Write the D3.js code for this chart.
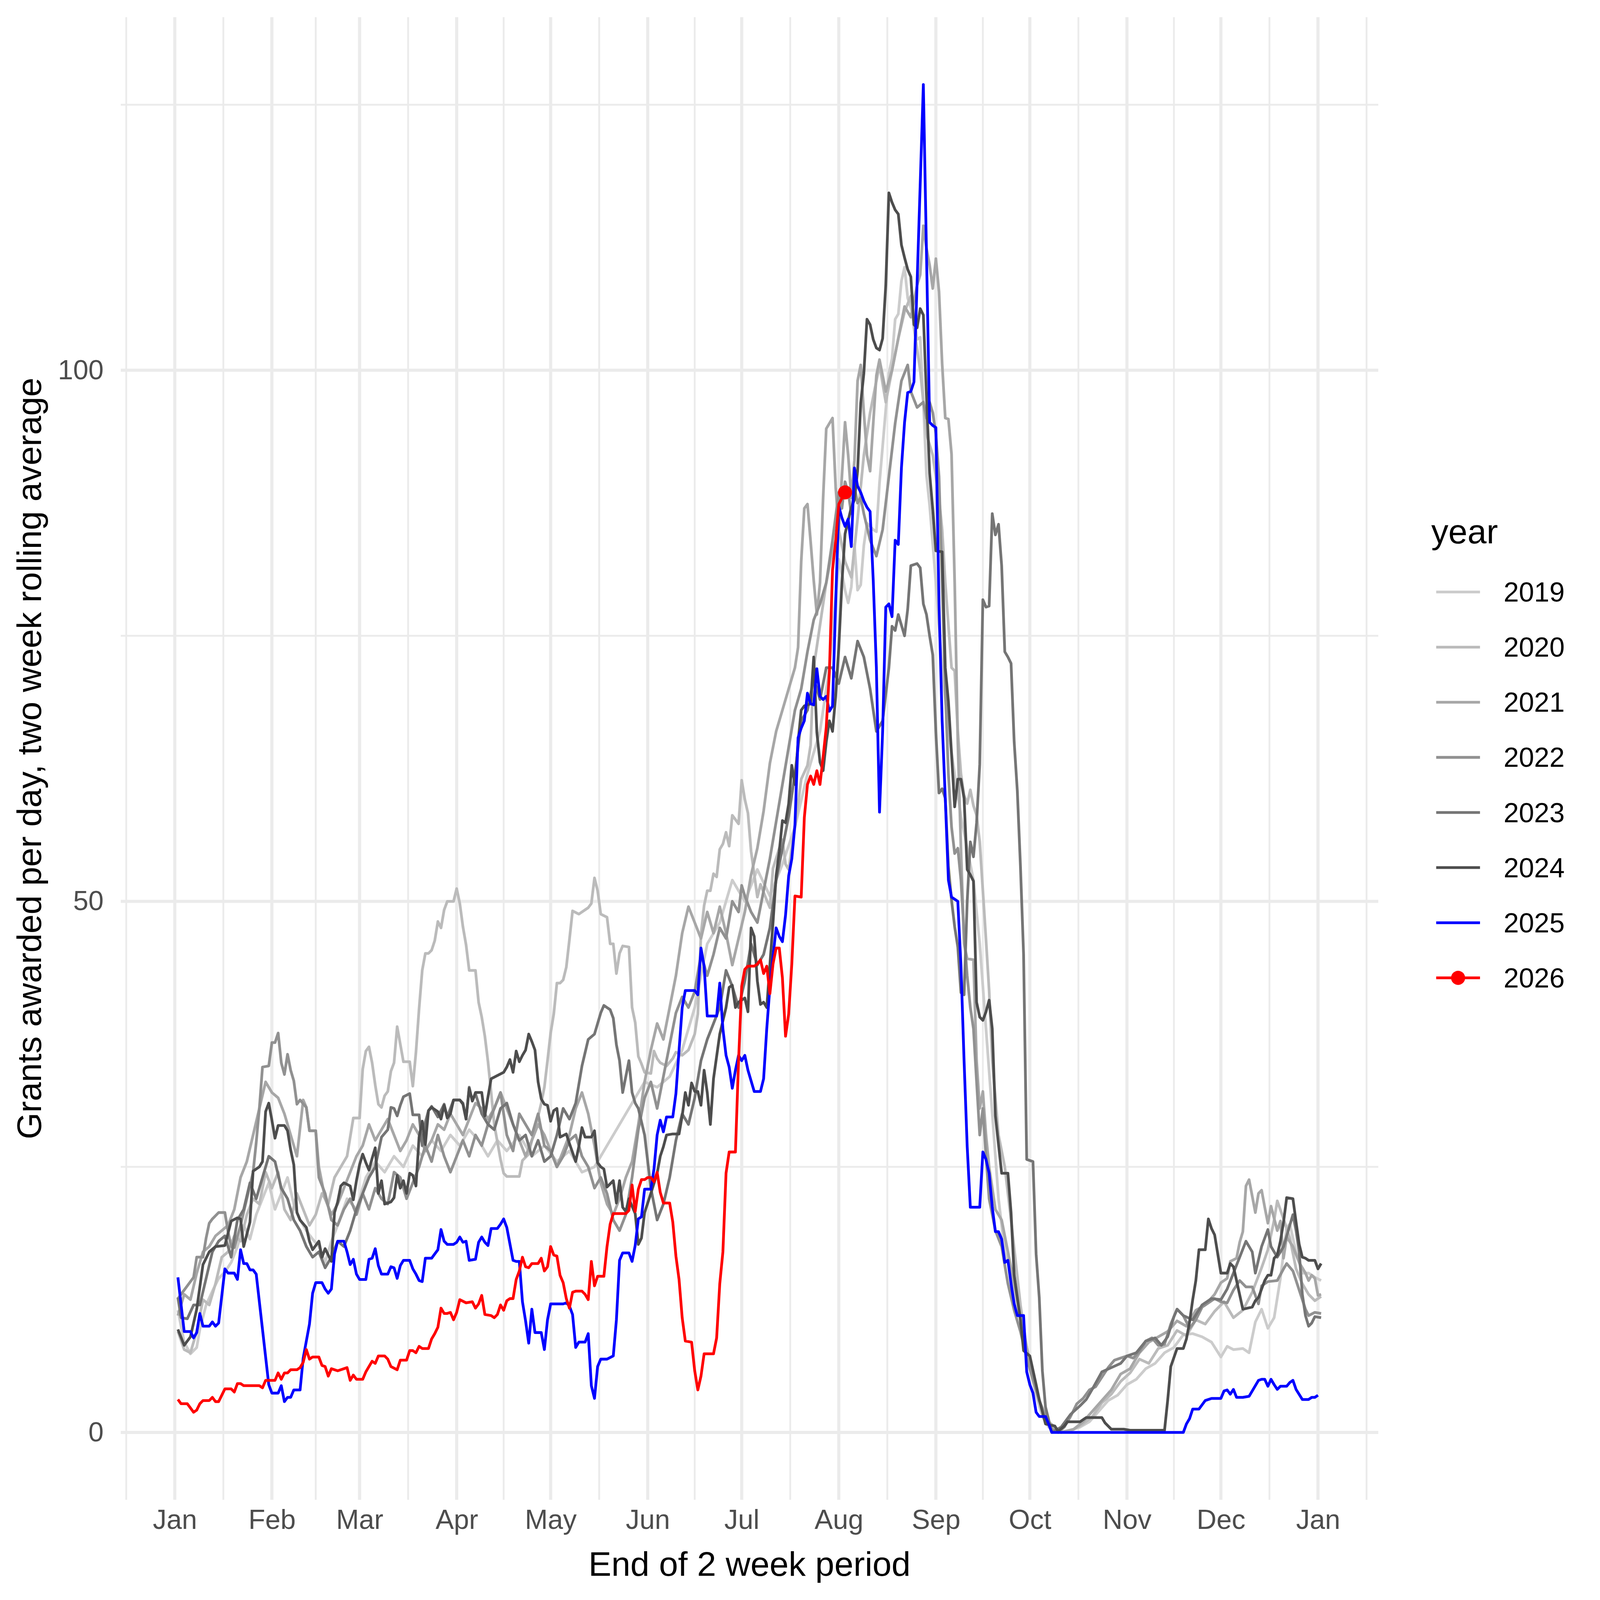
<!DOCTYPE html>
<html>
<head>
<meta charset="utf-8">
<script src="https://cdn.jsdelivr.net/npm/d3@7"></script>
<style>
  html, body { margin: 0; padding: 0; background: #fff; overflow: hidden; }
  #chart svg { display: block; width: 100vw; height: 100vh; }
  text { font-family: "Liberation Sans", Arial, Helvetica, sans-serif; }
</style>
</head>
<body>
<div id="chart"></div>
<script>
// series: [day of year (0 = 1 Jan), grants per day]
var years = ["2019", "2020", "2021", "2022", "2023", "2024", "2025", "2026"];

var s2019 = [[1,11.5],[3,8.5],[5,7.4],[7,8.0],[8,9.7],[10,12.0],[12,13.3],[14,14.5],[16,15.1],[18,16.0],[20,17.5],[22,19.5],[24,18.2],[26,20.5],[28,22.0],[30,23.5],[32,21.0],[34,22.5],[36,24.0],[38,21.5],[40,20.0],[42,19.0],[44,18.2],[46,17.5],[48,16.0],[50,18.0],[52,19.5],[55,22.0],[58,21.0],[61,24.0],[64,25.5],[67,24.5],[70,26.0],[73,25.0],[76,27.0],[79,26.0],[82,27.5],[85,26.5],[88,28.0],[91,27.0],[94,28.5],[97,27.5],[100,26.0],[103,27.5],[106,26.5],[110,28.0],[114,26.0],[118,27.0],[122,25.5],[126,26.5],[130,24.5],[134,25.0],[138,27.0],[142,29.0],[146,31.0],[150,33.0],[154,32.5],[158,33.5],[162,36.0],[166,40.0],[170,46.0],[174,48.0],[178,52.0],[182,50.0],[186,53.0],[190,50.5],[194,53.5],[198,57.0],[202,62.0],[206,66.0],[209,72.0],[212,82.2],[213,80.9],[214,79.3],[215,78.1],[216,79.6],[217,83.6],[218,79.3],[219,79.8],[220,83.5],[221,85.6],[223,85.0],[224,84.8],[225,89.4],[227,96.3],[228,99.7],[229,101.1],[230,104.8],[231,105.3],[232,108.4],[233,109.7],[234,106.8],[236,105.0],[237,102.9],[238,103.1],[239,97.0],[240,90.1],[241,87.3],[243,80.0],[245,72.0],[247,66.0],[249,62.0],[251,58.0],[253,55.0],[255,52.0],[257,46.0],[259,38.0],[261,30.0],[263,22.0],[265,17.0],[267,15.0],[269,12.0],[271,9.0],[273,6.0],[275,3.5],[277,1.5],[279,0.5],[282,0.0],[286,0.2],[289,0.5],[292,1.0],[295,2.0],[298,3.0],[301,3.5],[304,4.5],[307,5.0],[310,6.0],[313,6.5],[316,7.5],[319,8.0],[322,9.2],[325,9.3],[328,9.0],[331,8.5],[334,7.1],[336,8.1],[338,7.8],[341,7.9],[343,7.5],[345,10.4],[347,11.6],[349,9.8],[351,10.8],[353,14.5],[355,19.3],[356,19.6],[358,17.0],[360,15.0],[362,15.0],[364,14.6],[366,14.3]];

var s2020 = [[1,9.5],[3,7.8],[5,7.5],[7,9.5],[9,12.5],[11,12.0],[13,14.0],[15,16.5],[17,17.0],[19,18.5],[21,18.0],[23,20.5],[25,22.0],[27,21.5],[29,24.5],[31,23.0],[33,24.5],[35,21.0],[37,20.0],[39,22.5],[41,21.0],[43,19.5],[45,20.5],[47,22.5],[49,21.5],[51,24.0],[53,25.0],[55,26.0],[57,29.6],[59,29.6],[60,34.2],[61,35.9],[62,36.3],[63,34.8],[64,32.7],[65,30.9],[66,30.6],[67,31.7],[68,32.1],[69,34.0],[70,34.8],[71,38.2],[73,34.9],[75,34.9],[76,32.6],[77,35.8],[78,39.9],[79,43.5],[80,45.1],[81,45.1],[82,45.4],[83,46.3],[84,48.1],[85,47.5],[86,49.2],[87,50.0],[89,50.0],[90,51.2],[91,49.8],[92,47.6],[93,45.9],[94,43.5],[96,43.5],[97,40.5],[98,39.1],[99,37.3],[100,34.9],[101,32.0],[102,29.0],[104,25.7],[105,24.4],[106,24.1],[110,24.1],[111,25.6],[113,26.2],[114,27.5],[115,28.5],[117,31.0],[118,32.5],[119,35.0],[120,37.6],[121,39.4],[122,42.3],[123,42.3],[124,42.6],[125,43.8],[126,46.4],[127,49.1],[129,48.8],[130,49.0],[132,49.4],[133,49.8],[134,52.2],[135,51.0],[136,48.8],[138,48.5],[139,46.0],[140,46.0],[141,43.2],[142,45.1],[143,45.8],[145,45.7],[146,40.0],[147,38.6],[148,35.4],[149,34.7],[150,33.9],[152,33.8],[153,35.9],[154,35.2],[155,34.8],[157,34.5],[159,35.2],[160,35.8],[162,35.5],[164,36.0],[166,37.5],[167,39.4],[168,46.9],[169,49.6],[170,51.0],[171,51.0],[172,52.6],[173,52.3],[174,54.9],[175,55.4],[176,56.5],[177,55.2],[178,58.1],[180,57.3],[181,61.4],[182,59.6],[183,58.3],[184,54.7],[186,50.4],[187,51.6],[189,50.1],[190,49.4],[191,53.1],[193,55.0],[194,55.8],[195,53.5],[196,53.0],[198,57.0],[199,59.2],[200,61.5],[202,62.8],[203,64.7],[204,72.0],[206,76.0],[208,80.0],[210,83.0],[212,85.0],[214,82.0],[216,80.5],[218,86.0],[220,92.0],[222,96.0],[224,99.0],[225,100.5],[227,97.0],[229,100.0],[231,103.0],[233,105.5],[235,107.0],[236,104.0],[238,100.0],[240,94.0],[242,92.0],[244,88.0],[245,85.0],[246,80.0],[247,76.0],[248,72.0],[249,71.7],[250,66.0],[251,62.0],[252,60.0],[253,59.2],[254,60.5],[255,59.0],[256,58.1],[257,55.6],[258,51.0],[259,46.4],[260,41.6],[261,35.0],[263,28.0],[265,25.0],[267,20.0],[270,12.0],[273,6.0],[276,3.0],[279,1.0],[283,0.0],[287,0.3],[290,0.8],[293,1.5],[296,2.8],[299,3.6],[302,4.8],[305,5.6],[308,6.9],[311,6.5],[314,7.9],[317,8.2],[320,9.6],[323,9.1],[326,10.6],[329,10.2],[332,11.4],[335,12.3],[338,10.8],[341,11.5],[344,13.2],[347,15.5],[349,17.2],[351,20.0],[352,21.8],[354,20.1],[356,18.3],[358,15.4],[360,14.0],[362,13.0],[364,12.4],[366,12.8]];

var s2021 = [[1,11.0],[3,13.0],[5,12.5],[7,15.0],[9,17.0],[11,17.5],[13,18.5],[15,19.0],[17,19.5],[19,21.0],[21,24.0],[23,25.5],[25,28.0],[27,30.5],[29,33.0],[31,32.0],[33,31.5],[35,30.0],[37,28.0],[39,26.0],[41,31.3],[42,30.6],[43,28.4],[45,28.4],[46,25.0],[48,22.0],[50,20.5],[52,21.5],[54,23.0],[56,24.5],[58,26.0],[60,27.0],[62,29.0],[64,27.5],[66,28.5],[68,29.5],[70,28.0],[72,26.5],[74,27.5],[76,29.0],[78,28.0],[80,26.5],[82,27.5],[84,29.0],[86,28.5],[88,30.0],[90,29.0],[92,28.0],[94,29.5],[96,31.0],[98,30.5],[100,29.5],[102,30.5],[104,32.0],[106,30.5],[108,29.0],[110,27.5],[112,26.0],[114,27.5],[116,29.0],[118,28.0],[120,26.5],[122,25.0],[124,26.5],[126,28.0],[128,30.5],[130,32.0],[132,30.0],[134,27.0],[136,23.5],[138,21.5],[140,20.5],[142,22.0],[144,24.0],[146,25.5],[148,29.0],[150,33.0],[152,36.0],[154,38.5],[156,37.0],[158,40.0],[160,43.0],[162,47.0],[164,49.5],[166,48.0],[168,46.5],[170,49.0],[172,47.0],[174,49.5],[176,47.0],[178,44.0],[180,46.5],[182,49.0],[184,52.5],[186,55.0],[188,58.5],[190,63.0],[192,66.0],[194,68.0],[196,70.0],[198,72.0],[199,73.9],[200,82.0],[201,87.0],[202,87.4],[203,83.9],[204,80.2],[205,77.0],[206,80.0],[207,88.0],[208,94.5],[210,95.5],[211,89.0],[212,85.0],[213,90.0],[214,95.1],[215,92.0],[216,88.0],[217,91.5],[218,99.0],[219,100.5],[220,96.0],[221,92.0],[222,90.5],[223,95.0],[224,99.5],[225,101.0],[227,98.0],[229,100.0],[231,103.0],[233,106.0],[235,105.0],[237,108.0],[238,109.0],[239,113.6],[240,111.5],[241,109.9],[242,107.7],[243,110.5],[244,107.4],[245,100.6],[246,95.5],[247,95.4],[248,92.1],[249,80.0],[250,65.0],[251,55.0],[252,46.0],[253,44.6],[255,44.5],[256,35.0],[257,30.5],[258,32.1],[259,28.0],[260,25.0],[262,21.0],[264,20.0],[266,17.0],[268,14.0],[270,11.0],[272,8.0],[274,5.5],[276,3.0],[278,1.5],[280,0.5],[283,0.0],[287,0.3],[290,1.0],[293,2.0],[296,3.0],[299,4.0],[302,5.5],[305,6.0],[308,7.5],[311,8.5],[314,9.0],[317,9.5],[320,10.5],[323,10.0],[326,11.5],[329,12.0],[332,13.0],[334,14.1],[336,14.5],[337,16.1],[339,16.4],[340,17.9],[341,18.9],[342,23.2],[343,23.8],[345,20.7],[346,22.5],[347,22.8],[348,21.2],[349,19.7],[350,21.3],[352,19.0],[353,19.9],[354,16.4],[355,18.4],[357,17.5],[359,16.0],[361,15.0],[362,14.3],[363,14.8],[364,14.5],[365,12.9],[366,13.0]];

var s2022 = [[1,12.6],[3,13.4],[4,13.8],[6,14.6],[7,16.5],[9,16.5],[10,18.3],[11,19.7],[12,20.1],[14,20.7],[16,20.7],[17,18.9],[18,17.5],[19,17.4],[21,19.5],[23,22.0],[25,24.5],[26,27.3],[27,30.5],[28,34.4],[30,34.5],[31,36.7],[32,36.7],[33,37.6],[34,34.8],[35,33.7],[36,35.6],[37,34.1],[38,33.1],[39,30.9],[40,31.3],[42,30.6],[43,28.4],[45,28.4],[46,24.0],[48,22.5],[50,20.0],[52,19.5],[54,21.0],[56,22.0],[58,20.5],[60,22.5],[62,21.0],[64,23.0],[66,22.0],[68,21.5],[70,24.5],[72,24.0],[74,22.0],[76,23.5],[78,25.0],[80,27.0],[82,25.5],[84,28.0],[86,26.0],[88,24.5],[90,26.0],[92,27.5],[94,26.0],[96,28.0],[98,27.0],[100,29.0],[102,30.5],[104,32.0],[106,28.0],[108,26.5],[110,30.0],[112,29.0],[114,28.0],[116,30.0],[118,27.0],[120,26.5],[122,25.0],[124,26.0],[126,27.5],[128,28.0],[130,26.0],[132,25.0],[134,23.0],[136,24.0],[138,22.5],[140,20.0],[142,19.0],[144,20.5],[146,24.0],[148,28.5],[150,31.5],[152,33.0],[154,30.5],[156,33.5],[158,36.5],[160,39.5],[162,41.0],[164,40.0],[166,41.5],[168,45.0],[170,43.0],[172,45.0],[174,47.5],[176,46.5],[178,50.0],[180,49.0],[181,51.5],[182,50.5],[184,49.0],[186,48.0],[188,51.0],[190,54.0],[192,57.5],[194,61.0],[196,64.5],[198,68.0],[200,70.0],[202,73.5],[204,76.5],[206,78.0],[208,80.0],[210,84.0],[212,88.5],[213,87.0],[214,89.5],[215,88.5],[216,86.5],[217,89.0],[218,87.5],[219,88.0],[220,86.5],[222,84.0],[224,82.5],[226,85.0],[228,90.0],[230,95.0],[232,99.0],[234,100.5],[235,98.0],[237,96.5],[239,97.0],[240,95.5],[241,97.0],[242,96.0],[243,94.0],[244,90.0],[245,80.0],[246,70.0],[247,62.0],[248,57.0],[249,54.5],[250,55.0],[251,52.0],[252,47.0],[253,43.0],[254,40.0],[255,38.0],[256,33.0],[257,28.0],[258,30.5],[259,26.0],[260,22.0],[262,19.0],[264,17.5],[266,14.0],[268,11.5],[270,9.5],[272,7.0],[274,5.0],[276,3.0],[278,1.5],[280,0.3],[282,0.0],[284,0.5],[286,1.5],[288,2.7],[290,3.2],[292,4.0],[294,4.3],[296,5.2],[298,6.1],[300,6.8],[302,7.0],[304,7.2],[306,7.0],[308,7.6],[310,8.6],[312,8.9],[314,8.2],[316,8.3],[318,10.2],[320,11.6],[322,11.0],[324,9.8],[326,10.6],[328,11.8],[330,12.2],[332,12.6],[334,12.3],[336,12.2],[338,13.4],[340,14.3],[342,13.7],[344,13.7],[346,12.1],[347,13.8],[349,14.2],[352,14.3],[354,15.4],[355,15.9],[357,15.2],[359,13.4],[361,11.6],[362,11.0],[364,11.3],[366,11.2]];

var s2023 = [[1,12.7],[2,10.8],[4,10.7],[6,12.0],[8,12.0],[10,14.5],[12,17.0],[14,18.0],[16,18.5],[18,16.5],[20,20.0],[22,21.0],[24,23.5],[26,22.0],[28,24.0],[30,26.0],[32,25.5],[34,23.0],[36,22.0],[38,20.0],[40,19.0],[42,17.5],[44,16.5],[46,17.0],[48,15.5],[50,16.5],[52,18.0],[54,17.5],[56,19.0],[58,21.0],[60,22.5],[62,24.0],[64,25.0],[66,27.8],[68,28.5],[69,30.6],[70,30.5],[71,29.8],[72,30.8],[73,31.6],[75,31.9],[76,29.9],[78,29.9],[79,27.0],[80,29.2],[81,30.3],[82,30.7],[84,29.7],[86,30.9],[87,29.7],[89,31.3],[91,31.3],[92,31.0],[93,29.5],[94,32.5],[95,31.2],[96,31.9],[98,30.0],[100,29.0],[102,28.5],[104,30.5],[106,31.0],[108,29.0],[110,27.5],[112,28.0],[114,26.0],[116,27.5],[118,25.5],[120,26.0],[122,28.0],[124,30.5],[126,29.5],[128,31.0],[130,34.5],[132,37.0],[134,37.5],[136,39.5],[137,40.2],[138,40.0],[139,39.8],[140,39.0],[141,36.5],[142,35.0],[143,32.0],[144,33.5],[145,35.0],[146,32.0],[147,31.0],[148,30.5],[150,28.0],[152,23.0],[154,20.0],[156,21.5],[158,24.0],[160,27.5],[162,30.0],[164,29.0],[166,31.5],[168,35.0],[170,37.0],[172,38.5],[174,40.0],[176,43.5],[178,42.0],[180,40.0],[182,42.5],[184,46.0],[186,44.0],[188,45.0],[190,47.5],[192,52.0],[194,55.0],[196,58.0],[198,62.0],[200,67.0],[202,68.0],[204,71.0],[206,69.0],[208,72.0],[210,72.0],[212,70.5],[214,73.0],[216,71.0],[218,74.5],[220,73.0],[222,70.0],[224,66.0],[226,67.0],[228,72.0],[229,75.9],[230,75.5],[231,77.0],[232,76.0],[233,75.0],[234,77.5],[235,81.6],[237,81.8],[238,81.4],[239,78.0],[240,77.0],[241,75.0],[242,73.2],[243,65.9],[244,60.2],[245,60.6],[246,59.7],[247,53.3],[248,50.1],[249,47.6],[250,45.7],[251,41.4],[252,41.2],[253,50.0],[254,55.6],[255,54.2],[256,57.4],[257,62.9],[258,78.4],[259,77.7],[260,77.8],[261,86.5],[262,84.5],[263,85.5],[264,81.6],[265,73.5],[266,73.0],[267,72.4],[268,65.0],[269,60.4],[270,53.3],[271,45.0],[272,25.7],[274,25.5],[275,16.8],[276,12.7],[277,5.8],[278,2.4],[280,0.0],[283,0.5],[286,1.7],[289,2.5],[291,3.1],[293,4.1],[296,5.7],[299,6.1],[302,6.5],[304,7.2],[307,7.5],[310,8.6],[313,8.9],[315,8.2],[317,9.0],[319,10.9],[320,11.6],[322,11.0],[325,10.6],[328,12.0],[331,12.6],[334,12.5],[336,13.5],[338,15.0],[340,16.5],[342,18.0],[344,17.0],[345,15.0],[347,17.5],[349,19.1],[350,17.5],[352,16.5],[354,17.5],[356,19.5],[357,20.5],[358,19.0],[359,17.0],[360,13.0],[361,11.0],[362,10.0],[363,10.3],[364,10.9],[366,10.8]];

var s2024 = [[1,9.7],[3,8.2],[5,9.0],[7,11.6],[9,15.8],[11,17.0],[13,17.5],[16,17.6],[18,19.9],[20,20.2],[21,20.1],[22,17.5],[24,19.8],[25,24.6],[27,25.0],[28,25.5],[29,30.2],[30,31.0],[31,29.4],[32,27.7],[33,28.9],[35,28.9],[36,28.4],[37,26.6],[38,25.2],[39,20.7],[40,20.0],[42,19.3],[43,18.0],[44,17.2],[46,18.0],[47,16.5],[48,17.3],[50,16.1],[51,20.7],[52,21.7],[53,23.2],[54,23.5],[56,23.2],[57,21.9],[58,23.7],[59,25.2],[60,26.2],[61,25.4],[62,24.7],[63,25.8],[64,26.8],[65,22.5],[66,23.7],[67,21.5],[69,21.7],[70,22.1],[71,24.2],[72,23.0],[73,23.7],[74,22.5],[75,24.4],[76,24.2],[77,23.2],[78,27.8],[79,29.3],[80,27.1],[81,30.3],[82,30.6],[84,30.2],[85,29.5],[86,30.8],[87,29.6],[88,30.0],[89,31.3],[91,31.3],[92,30.9],[93,29.5],[94,32.4],[95,31.2],[96,32.0],[98,32.0],[99,29.8],[100,31.6],[101,33.3],[103,33.6],[105,33.9],[106,34.4],[107,35.1],[108,33.9],[109,35.9],[110,34.9],[111,35.5],[112,36.0],[113,37.5],[114,36.8],[115,36.0],[116,33.0],[117,31.4],[118,30.9],[119,30.8],[120,29.3],[121,30.3],[122,30.5],[123,27.8],[125,28.1],[126,27.2],[128,25.5],[129,26.9],[130,28.7],[131,27.8],[133,27.8],[134,28.4],[135,25.4],[136,25.0],[137,24.8],[138,23.1],[140,23.7],[141,21.6],[142,23.7],[143,21.2],[144,20.8],[145,22.0],[147,20.6],[148,17.7],[149,18.3],[150,20.7],[151,21.6],[152,22.5],[154,24.4],[155,26.0],[156,26.9],[157,28.0],[159,28.1],[161,28.1],[162,29.8],[163,32.0],[164,30.8],[165,32.9],[166,32.1],[167,32.1],[168,30.8],[169,34.1],[170,32.0],[171,29.0],[172,33.3],[174,37.5],[176,40.0],[177,41.9],[178,42.1],[179,40.0],[180,40.5],[182,40.9],[183,39.6],[184,47.5],[185,46.7],[186,42.5],[187,40.3],[188,40.5],[189,40.0],[190,44.0],[191,48.0],[192,52.4],[193,54.7],[194,57.6],[195,57.4],[196,59.2],[197,62.8],[198,61.0],[199,65.0],[200,68.0],[201,68.4],[203,68.6],[204,73.0],[205,65.9],[206,63.1],[207,62.3],[208,65.0],[209,67.0],[210,66.0],[211,69.3],[212,73.9],[213,80.0],[214,84.6],[216,87.1],[217,87.8],[218,90.5],[219,96.9],[220,99.7],[221,104.8],[222,104.3],[223,102.9],[224,102.1],[225,101.9],[226,103.0],[227,108.0],[228,116.7],[229,115.8],[230,115.1],[231,114.7],[232,111.8],[233,110.6],[234,109.5],[235,108.8],[236,104.3],[237,104.0],[238,105.8],[239,105.2],[240,97.6],[241,90.3],[242,86.9],[243,83.0],[245,82.9],[246,72.0],[247,68.8],[249,58.9],[250,61.5],[251,61.5],[252,59.7],[253,53.0],[254,52.5],[255,51.9],[256,40.5],[257,39.1],[258,38.8],[259,39.6],[260,40.7],[261,38.0],[262,29.8],[264,24.4],[266,24.4],[267,20.7],[268,14.8],[270,10.6],[271,7.7],[273,7.2],[275,4.5],[276,3.1],[278,0.8],[281,0.6],[282,0.1],[284,0.6],[285,1.0],[289,1.0],[291,1.4],[296,1.4],[297,0.9],[299,0.3],[303,0.3],[305,0.2],[316,0.2],[317,3.0],[318,6.2],[320,7.9],[322,7.9],[323,8.8],[324,10.4],[325,12.5],[326,14.3],[327,17.2],[329,17.2],[330,20.1],[331,19.2],[332,18.6],[334,15.0],[336,15.0],[337,15.9],[338,15.6],[339,14.3],[341,11.6],[344,11.8],[345,12.4],[346,12.7],[348,14.3],[349,14.8],[350,14.8],[351,16.4],[352,16.7],[353,18.0],[354,19.8],[355,22.1],[357,22.0],[358,19.8],[359,17.7],[360,16.5],[361,16.4],[362,16.2],[364,16.2],[365,15.4],[366,15.9]];

var s2025 = [[1,14.6],[3,9.5],[5,9.5],[6,8.9],[7,9.4],[8,11.2],[9,10.0],[11,10.0],[12,10.4],[13,10.0],[14,10.3],[16,15.4],[17,15.0],[19,15.0],[20,14.4],[21,17.2],[22,15.9],[23,15.9],[24,15.3],[25,15.3],[26,14.9],[28,9.7],[30,4.5],[31,3.7],[33,3.7],[34,4.4],[35,2.9],[36,3.3],[37,3.3],[38,4.0],[40,4.0],[41,7.0],[43,10.2],[44,13.1],[45,14.1],[47,14.1],[48,13.5],[49,13.1],[50,13.5],[51,16.8],[52,18.0],[54,18.0],[55,17.0],[56,15.8],[57,16.3],[58,14.9],[59,14.4],[61,14.4],[62,16.3],[63,16.4],[64,17.3],[65,15.7],[66,14.9],[68,14.9],[69,15.6],[70,15.5],[71,14.5],[72,15.7],[73,16.2],[75,16.2],[76,15.4],[77,14.9],[78,14.3],[79,14.2],[80,16.4],[82,16.4],[83,16.8],[84,17.2],[85,19.1],[86,18.0],[87,17.7],[89,17.7],[90,17.9],[91,18.4],[92,17.9],[93,18.0],[94,16.2],[96,16.3],[97,17.9],[98,18.4],[99,17.9],[100,17.6],[101,19.2],[103,19.2],[104,19.6],[105,20.1],[106,19.3],[108,16.2],[109,16.1],[110,16.1],[111,12.3],[112,10.5],[113,8.4],[114,11.6],[115,9.4],[117,9.4],[118,7.8],[119,10.6],[120,12.1],[124,12.1],[125,12.2],[126,11.9],[127,11.1],[128,8.0],[129,8.5],[131,8.5],[132,9.3],[133,4.4],[134,3.2],[135,6.2],[136,6.9],[138,6.9],[140,7.2],[141,10.6],[142,16.2],[143,16.9],[145,16.9],[146,16.1],[147,17.6],[148,20.1],[149,20.3],[150,22.9],[152,22.9],[153,24.8],[154,28.0],[155,29.4],[156,28.3],[157,29.7],[159,29.7],[160,31.9],[161,36.0],[162,40.0],[163,41.6],[166,41.6],[167,41.2],[168,45.6],[169,43.9],[170,39.2],[173,39.2],[174,42.3],[175,38.0],[176,35.5],[177,34.4],[178,32.4],[179,34.1],[180,35.5],[181,35.0],[182,35.5],[183,34.1],[185,32.1],[187,32.1],[188,33.3],[189,38.0],[190,41.9],[191,44.8],[192,47.5],[193,46.7],[194,46.2],[195,48.7],[196,52.4],[197,54.0],[198,57.2],[199,65.4],[200,66.3],[201,67.0],[202,69.6],[203,68.6],[204,68.5],[205,71.9],[206,69.3],[207,69.0],[208,69.3],[209,67.9],[210,68.4],[211,78.0],[212,87.2],[213,86.1],[214,85.3],[215,86.0],[216,83.4],[217,90.8],[218,89.1],[219,88.5],[220,87.7],[221,87.1],[222,86.7],[223,80.2],[224,72.0],[225,58.4],[226,66.0],[227,77.7],[228,78.0],[229,76.8],[230,84.0],[231,83.6],[232,90.8],[233,95.1],[234,97.9],[235,98.0],[236,98.9],[239,126.9],[241,95.1],[242,94.8],[243,94.6],[244,78.0],[245,67.0],[246,59.7],[247,52.0],[248,50.4],[249,50.2],[250,50.0],[251,44.0],[252,35.0],[253,26.9],[254,21.2],[257,21.2],[258,26.4],[259,25.7],[260,24.4],[261,21.2],[262,18.9],[263,18.9],[264,18.2],[265,16.0],[266,16.2],[267,14.0],[268,12.1],[269,11.0],[271,11.0],[272,5.7],[273,4.5],[274,3.7],[275,1.9],[276,1.5],[278,1.5],[279,0.8],[280,0.0],[322,0.0],[323,0.8],[324,1.3],[325,2.2],[327,2.2],[328,2.6],[329,3.0],[331,3.2],[334,3.2],[335,3.9],[336,4.0],[337,3.6],[338,4.05],[339,3.3],[341,3.3],[343,3.4],[344,3.9],[346,4.9],[347,5.0],[348,5.0],[349,4.35],[350,5.0],[351,4.5],[352,4.05],[353,4.35],[355,4.35],[356,4.7],[357,4.9],[358,4.05],[360,3.1],[362,3.1],[363,3.3],[364,3.3],[365,3.5]];

var s2026 = [[1,3.1],[2,2.7],[4,2.7],[5,2.3],[6,1.9],[7,2.1],[8,2.7],[9,3.0],[11,3.0],[12,3.3],[13,2.9],[14,2.9],[16,4.1],[18,4.1],[19,3.8],[20,4.6],[21,4.6],[22,4.4],[27,4.4],[28,4.2],[29,4.9],[32,4.9],[33,5.6],[34,5.0],[35,5.6],[36,5.6],[37,5.9],[39,5.9],[40,6.1],[41,6.6],[42,7.8],[43,6.9],[44,7.1],[46,7.1],[47,6.3],[48,6.2],[49,5.3],[50,6.0],[52,5.8],[54,6.0],[55,6.1],[56,4.9],[57,5.4],[58,5.0],[60,5.0],[61,5.7],[63,6.7],[64,6.5],[65,7.2],[67,7.2],[68,6.9],[69,6.2],[71,5.9],[72,6.8],[74,6.8],[75,7.7],[76,7.7],[77,7.5],[78,8.1],[79,7.9],[81,7.9],[82,8.8],[83,9.3],[84,9.9],[85,11.7],[86,11.2],[87,11.2],[88,11.3],[89,10.6],[90,11.3],[91,12.5],[93,12.2],[95,12.3],[96,11.7],[97,12.1],[98,12.9],[99,11.1],[101,11.0],[102,10.8],[103,11.1],[104,12.0],[105,11.5],[106,12.4],[107,12.6],[108,12.6],[109,14.4],[110,15.2],[111,16.5],[112,15.6],[113,15.5],[114,15.9],[116,15.9],[117,16.4],[118,15.2],[119,15.6],[120,17.5],[121,16.7],[122,16.6],[123,14.8],[124,14.1],[125,12.6],[126,11.7],[127,13.2],[128,13.3],[130,13.3],[131,13.0],[132,12.5],[133,16.1],[134,13.8],[135,14.7],[137,14.7],[138,17.5],[139,19.6],[140,20.6],[144,20.6],[145,20.9],[146,23.3],[147,20.8],[148,22.9],[149,23.8],[150,23.8],[151,24.0],[152,24.0],[153,23.6],[154,24.5],[155,22.6],[156,21.6],[158,21.6],[159,19.8],[160,16.6],[161,14.4],[162,10.8],[163,8.6],[165,8.5],[166,5.8],[167,4.0],[168,5.3],[169,7.4],[172,7.4],[173,8.9],[174,14.0],[175,17.0],[176,24.4],[177,26.4],[179,26.4],[180,35.0],[181,42.0],[182,43.6],[183,43.9],[185,43.9],[186,44.1],[187,44.5],[188,43.2],[189,43.9],[190,41.3],[191,44.1],[192,45.6],[193,45.6],[194,42.8],[195,37.3],[196,39.4],[197,44.1],[198,50.5],[200,50.4],[201,57.9],[202,61.0],[203,61.8],[204,61.0],[205,62.3],[206,61.0],[207,63.6],[208,66.4],[209,71.6],[210,81.2],[211,83.9],[212,87.4],[214,88.5]];

var series = [s2019, s2020, s2021, s2022, s2023, s2024, s2025, s2026];
var colours = ["#cccccc", "#bbbbbb", "#a7a7a7", "#919191", "#757575", "#4d4d4d", "#0000ff", "#ff0000"];

// set the dimensions of the graph (drawn in a 4200 x 4200 box, scaled to the window)
var W = 4200, H = 4200;
var panel = {left: 317, right: 3618, top: 45, bottom: 3937};
var lineW = 7.2;

var svg = d3.select("#chart")
    .append("svg")
    .attr("viewBox", "0 0 " + W + " " + H)
    .attr("preserveAspectRatio", "xMidYMid meet");

svg.append("rect").attr("width", W).attr("height", H).attr("fill", "#fff");

var day0 = Date.UTC(2026, 0, 1);
function toDate(d) { return new Date(day0 + d * 864e5); }

// x: dates, 5% padding each side like ggplot
var allDays = [].concat.apply([], series.map(function (s) { return s.map(function (p) { return p[0]; }); }));
var dExt = d3.extent(allDays);
var dPad = (dExt[1] - dExt[0]) * 0.05;
var x = d3.scaleUtc()
    .domain([toDate(dExt[0] - dPad), toDate(dExt[1] + dPad)])
    .range([panel.left, panel.right]);

// y: 0 .. max with 5% padding
var yMax = d3.max(series, function (s) { return d3.max(s, function (p) { return p[1]; }); });
var yPad = yMax * 0.05;
var y = d3.scaleLinear()
    .domain([-yPad, yMax + yPad])
    .range([panel.bottom, panel.top]);

// grid lines
var grid = svg.append("g").attr("stroke", "#ebebeb").attr("fill", "none");
var majorX = d3.utcMonth.range(Date.UTC(2026, 0, 1), Date.UTC(2027, 0, 2));
var monthsWide = d3.utcMonth.range(Date.UTC(2025, 11, 1), Date.UTC(2027, 1, 2));
var minorX = [];
for (var i = 0; i < monthsWide.length - 1; i++) {
    var mid = new Date((monthsWide[i].getTime() + monthsWide[i + 1].getTime()) / 2);
    if (mid >= x.domain()[0] && mid <= x.domain()[1]) minorX.push(mid);
}
var majorY = [0, 50, 100];
var minorY = [25, 75, 125];

grid.selectAll(".minx").data(minorX).enter().append("line")
    .attr("x1", function (d) { return x(d); }).attr("x2", function (d) { return x(d); })
    .attr("y1", panel.top).attr("y2", panel.bottom).attr("stroke-width", 4.8);
grid.selectAll(".miny").data(minorY).enter().append("line")
    .attr("y1", function (d) { return y(d); }).attr("y2", function (d) { return y(d); })
    .attr("x1", panel.left).attr("x2", panel.right).attr("stroke-width", 4.8);
grid.selectAll(".majx").data(majorX).enter().append("line")
    .attr("x1", function (d) { return x(d); }).attr("x2", function (d) { return x(d); })
    .attr("y1", panel.top).attr("y2", panel.bottom).attr("stroke-width", 8.2);
grid.selectAll(".majy").data(majorY).enter().append("line")
    .attr("y1", function (d) { return y(d); }).attr("y2", function (d) { return y(d); })
    .attr("x1", panel.left).attr("x2", panel.right).attr("stroke-width", 8.2);

// axes (labels only, theme_minimal has no axis lines or ticks)
var xAxis = svg.append("g")
    .attr("transform", "translate(0," + panel.bottom + ")")
    .call(d3.axisBottom(x).tickValues(majorX).tickFormat(d3.utcFormat("%b")).tickSize(0).tickPadding(25));
var yAxis = svg.append("g")
    .attr("transform", "translate(" + panel.left + ",0)")
    .call(d3.axisLeft(y).tickValues(majorY).tickSize(0).tickPadding(45));
[xAxis, yAxis].forEach(function (g) {
    g.select(".domain").remove();
    g.selectAll("text").attr("font-size", 72).attr("fill", "#4d4d4d")
        .style("font-family", "'Liberation Sans', Arial, sans-serif");
});

// lines
var line = d3.line()
    .x(function (d) { return x(toDate(d[0])); })
    .y(function (d) { return y(d[1]); });

svg.append("g").selectAll("path")
    .data(series)
    .enter()
    .append("path")
    .attr("fill", "none")
    .attr("stroke", function (d, i) { return colours[i]; })
    .attr("stroke-width", lineW)
    .attr("stroke-linejoin", "round")
    .attr("d", line);

// latest point of the current year
var last = s2026[s2026.length - 1];
svg.append("circle")
    .attr("cx", x(toDate(last[0])))
    .attr("cy", y(last[1]))
    .attr("r", 18.5)
    .attr("fill", "#ff0000");

// axis titles
svg.append("text")
    .attr("x", (panel.left + panel.right) / 2)
    .attr("y", 4136)
    .attr("text-anchor", "middle")
    .attr("font-size", 90)
    .attr("fill", "#000")
    .text("End of 2 week period");

svg.append("text")
    .attr("transform", "translate(108," + (panel.top + panel.bottom) / 2 + ") rotate(-90)")
    .attr("text-anchor", "middle")
    .attr("font-size", 90)
    .attr("fill", "#000")
    .text("Grants awarded per day, two week rolling average");

// legend
var legend = svg.append("g");
legend.append("text")
    .attr("x", 3757).attr("y", 1426)
    .attr("font-size", 90).attr("fill", "#000")
    .text("year");

var rows = legend.selectAll(".row")
    .data(years)
    .enter()
    .append("g")
    .attr("transform", function (d, i) { return "translate(0," + (1554 + i * 144.7) + ")"; });

rows.append("line")
    .attr("x1", 3770).attr("x2", 3885)
    .attr("stroke", function (d, i) { return colours[i]; })
    .attr("stroke-width", lineW);

rows.filter(function (d) { return d === "2026"; })
    .append("circle")
    .attr("cx", 3827.5).attr("r", 18.5)
    .attr("fill", "#ff0000");

rows.append("text")
    .attr("x", 3947)
    .attr("dy", "0.35em")
    .attr("font-size", 72)
    .attr("fill", "#000")
    .text(function (d) { return d; });
</script>
</body>
</html>
